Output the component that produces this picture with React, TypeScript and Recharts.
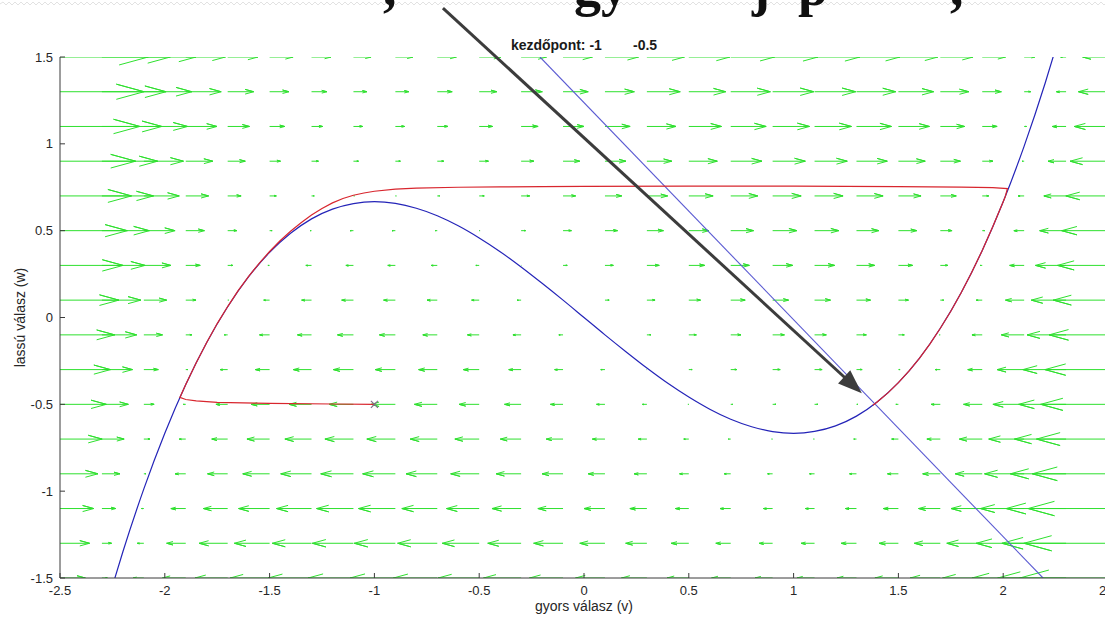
import React from 'react';
import { ComposedChart, Line, Scatter, XAxis, YAxis, ReferenceLine, Customized } from 'recharts';

// ---- axes ----
const xTicks = [-2.5, -2, -1.5, -1, -0.5, 0, 0.5, 1, 1.5, 2, 2.5];
const yTicks = [-1.5, -1, -0.5, 0, 0.5, 1, 1.5];

// ---- quiver grid (v columns, w rows) and horizontal field component read per row ----
const gridV = [-2.5, -2.3, -2.1, -1.9, -1.7, -1.5, -1.3, -1.1, -0.9, -0.7, -0.5, -0.3, -0.1, 0.1, 0.3, 0.5, 0.7, 0.9, 1.1, 1.3, 1.5, 1.7, 1.9, 2.1, 2.3, 2.5];
const gridW = [1.5, 1.3, 1.1, 0.9, 0.7, 0.5, 0.3, 0.1, -0.1, -0.3, -0.5, -0.7, -0.9, -1.1, -1.3, -1.5];
const fieldU = [
  [4.21, 3.26, 2.49, 1.89, 1.44, 1.12, 0.93, 0.84, 0.84, 0.91, 1.04, 1.21, 1.40, 1.60, 1.79, 1.96, 2.09, 2.16, 2.16, 2.07, 1.88, 1.56, 1.11, 0.51, -0.26, -1.21],
  [4.01, 3.06, 2.29, 1.69, 1.24, 0.92, 0.73, 0.64, 0.64, 0.71, 0.84, 1.01, 1.20, 1.40, 1.59, 1.76, 1.89, 1.96, 1.96, 1.87, 1.68, 1.36, 0.91, 0.31, -0.46, -1.41],
  [3.81, 2.86, 2.09, 1.49, 1.04, 0.72, 0.53, 0.44, 0.44, 0.51, 0.64, 0.81, 1.00, 1.20, 1.39, 1.56, 1.69, 1.76, 1.76, 1.67, 1.48, 1.16, 0.71, 0.11, -0.66, -1.61],
  [3.61, 2.66, 1.89, 1.29, 0.84, 0.52, 0.33, 0.24, 0.24, 0.31, 0.44, 0.61, 0.80, 1.00, 1.19, 1.36, 1.49, 1.56, 1.56, 1.47, 1.28, 0.96, 0.51, -0.09, -0.86, -1.81],
  [3.41, 2.46, 1.69, 1.09, 0.64, 0.32, 0.13, 0.04, 0.04, 0.11, 0.24, 0.41, 0.60, 0.80, 0.99, 1.16, 1.29, 1.36, 1.36, 1.27, 1.08, 0.76, 0.31, -0.29, -1.06, -2.01],
  [3.21, 2.26, 1.49, 0.89, 0.44, 0.12, -0.07, -0.16, -0.16, -0.09, 0.04, 0.21, 0.40, 0.60, 0.79, 0.96, 1.09, 1.16, 1.16, 1.07, 0.88, 0.56, 0.11, -0.49, -1.26, -2.21],
  [3.01, 2.06, 1.29, 0.69, 0.24, -0.08, -0.27, -0.36, -0.36, -0.29, -0.16, 0.01, 0.20, 0.40, 0.59, 0.76, 0.89, 0.96, 0.96, 0.87, 0.68, 0.36, -0.09, -0.69, -1.46, -2.41],
  [2.81, 1.86, 1.09, 0.49, 0.04, -0.28, -0.47, -0.56, -0.56, -0.49, -0.36, -0.19, 0.00, 0.20, 0.39, 0.56, 0.69, 0.76, 0.76, 0.67, 0.48, 0.16, -0.29, -0.89, -1.66, -2.61],
  [2.61, 1.66, 0.89, 0.29, -0.16, -0.48, -0.67, -0.76, -0.76, -0.69, -0.56, -0.39, -0.20, 0.00, 0.19, 0.36, 0.49, 0.56, 0.56, 0.47, 0.28, -0.04, -0.49, -1.09, -1.86, -2.81],
  [2.41, 1.46, 0.69, 0.09, -0.36, -0.68, -0.87, -0.96, -0.96, -0.89, -0.76, -0.59, -0.40, -0.20, -0.01, 0.16, 0.29, 0.36, 0.36, 0.27, 0.08, -0.24, -0.69, -1.29, -2.06, -3.01],
  [2.21, 1.26, 0.49, -0.11, -0.56, -0.88, -1.07, -1.16, -1.16, -1.09, -0.96, -0.79, -0.60, -0.40, -0.21, -0.04, 0.09, 0.16, 0.16, 0.07, -0.12, -0.44, -0.89, -1.49, -2.26, -3.21],
  [2.01, 1.06, 0.29, -0.31, -0.76, -1.08, -1.27, -1.36, -1.36, -1.29, -1.16, -0.99, -0.80, -0.60, -0.41, -0.24, -0.11, -0.04, -0.04, -0.13, -0.32, -0.64, -1.09, -1.69, -2.46, -3.41],
  [1.81, 0.86, 0.09, -0.51, -0.96, -1.28, -1.47, -1.56, -1.56, -1.49, -1.36, -1.19, -1.00, -0.80, -0.61, -0.44, -0.31, -0.24, -0.24, -0.33, -0.52, -0.84, -1.29, -1.89, -2.66, -3.61],
  [1.61, 0.66, -0.11, -0.71, -1.16, -1.48, -1.67, -1.76, -1.76, -1.69, -1.56, -1.39, -1.20, -1.00, -0.81, -0.64, -0.51, -0.44, -0.44, -0.53, -0.72, -1.04, -1.49, -2.09, -2.86, -3.81],
  [1.41, 0.46, -0.31, -0.91, -1.36, -1.68, -1.87, -1.96, -1.96, -1.89, -1.76, -1.59, -1.40, -1.20, -1.01, -0.84, -0.71, -0.64, -0.64, -0.73, -0.92, -1.24, -1.69, -2.29, -3.06, -4.01],
  [1.21, 0.26, -0.51, -1.11, -1.56, -1.88, -2.07, -2.16, -2.16, -2.09, -1.96, -1.79, -1.60, -1.40, -1.21, -1.04, -0.91, -0.84, -0.84, -0.93, -1.12, -1.44, -1.89, -2.49, -3.26, -4.21],
];

// ---- cubic nullcline (blue) ----
const cubicV = [-2.25, -2.2, -2.1, -2.0, -1.9, -1.8, -1.7, -1.6, -1.5, -1.4, -1.3, -1.2, -1.1, -1.0, -0.9, -0.8, -0.7, -0.6, -0.5, -0.4, -0.3, -0.2, -0.1, 0.0, 0.1, 0.2, 0.3, 0.4, 0.5, 0.6, 0.7, 0.8, 0.9, 1.0, 1.1, 1.2, 1.3, 1.4, 1.5, 1.6, 1.7, 1.8, 1.9, 2.0, 2.1, 2.2, 2.25];
const cubicW = [-1.547, -1.349, -0.987, -0.667, -0.386, -0.144, 0.062, 0.235, 0.375, 0.485, 0.568, 0.624, 0.656, 0.667, 0.657, 0.629, 0.586, 0.528, 0.458, 0.379, 0.291, 0.197, 0.100, 0.0, -0.100, -0.197, -0.291, -0.379, -0.458, -0.528, -0.586, -0.629, -0.657, -0.667, -0.656, -0.624, -0.568, -0.485, -0.375, -0.235, -0.062, 0.144, 0.386, 0.667, 0.987, 1.349, 1.547];

// ---- straight nullcline (blue) ----
const lineV = [-0.21, 2.19];
const lineW = [1.5, -1.5];

// ---- trajectory (red) ----
const trajV = [-1.0, -1.2, -1.5, -1.75, -1.85, -1.9, -1.928, -1.90, -1.85, -1.80, -1.75, -1.70, -1.65, -1.60, -1.55, -1.50, -1.45, -1.40, -1.35, -1.30, -1.25, -1.20, -1.15, -1.10, -1.05, -1.00, -0.90, -0.80, -0.60, -0.40, -0.20, 0.0, 0.5, 1.0, 1.5, 1.8, 1.95, 2.02, 2.01, 2.00, 1.95, 1.90, 1.85, 1.80, 1.75, 1.70, 1.65, 1.60, 1.55, 1.50, 1.45, 1.40, 1.378];
const trajW = [-0.500, -0.498, -0.495, -0.489, -0.480, -0.472, -0.460, -0.386, -0.260, -0.144, -0.035, 0.063, 0.155, 0.237, 0.312, 0.380, 0.442, 0.497, 0.546, 0.590, 0.628, 0.660, 0.685, 0.704, 0.717, 0.727, 0.739, 0.745, 0.750, 0.752, 0.754, 0.755, 0.756, 0.756, 0.754, 0.751, 0.748, 0.742, 0.697, 0.667, 0.522, 0.386, 0.261, 0.144, 0.036, -0.062, -0.153, -0.235, -0.309, -0.375, -0.434, -0.485, -0.505];

// ---- start point marker ----
const startV = [-1];
const startW = [-0.5];

// ---- annotation arrow (from, to) ----
const annotV = [-0.673, 1.3255];
const annotW = [1.782, -0.436];

// ---- texts ----
const titleText = 'kezdőpont: -1        -0.5';
const xLabel = 'gyors válasz (v)';
const yLabel = 'lassú válasz (w)';
const slideFragments = [',', 'gy', 'j', 'p', ','];
const slideFragmentX = [383, 574, 752, 798, 950];

// ---- styles ----
const QUIVER_SCALE = 0.1;
const HEAD_ALPHA = 0.33;
const HEAD_BETA = 0.33;
const GREEN = '#2ee02e';
const AXIS = '#3a3a3a';
const FONT = '"Liberation Sans", Arial, sans-serif';

// build tables
const quiverData: { x: number; y: number | null }[] = [];
gridW.forEach((w, r) => {
  gridV.forEach((v, c) => {
    const L = fieldU[r][c] * QUIVER_SCALE;
    if (L === 0) return;
    const tip = v + L;
    const back = tip - HEAD_ALPHA * L;
    const off = HEAD_ALPHA * HEAD_BETA * L;
    quiverData.push({ x: v, y: w });
    quiverData.push({ x: tip, y: w });
    quiverData.push({ x: back, y: w + off });
    quiverData.push({ x: tip, y: w });
    quiverData.push({ x: back, y: w - off });
    quiverData.push({ x: tip, y: null });
  });
});
const cubicData = cubicV.map((x, i) => ({ x, y: cubicW[i] }));
const lineData = lineV.map((x, i) => ({ x, y: lineW[i] }));
const trajData = trajV.map((x, i) => ({ x, y: trajW[i] }));
const startData = startV.map((x, i) => ({ x, y: startW[i] }));

const XMark = (props: any) => {
  const { cx, cy } = props;
  const s = 3.5;
  return (
    <g stroke="#806a8c" strokeWidth={1.2}>
      <line x1={cx - s} y1={cy - s} x2={cx + s} y2={cy + s} />
      <line x1={cx - s} y1={cy + s} x2={cx + s} y2={cy - s} />
    </g>
  );
};

const ArrowShape = (props: any) => {
  const x1 = Number(props.x1), y1 = Number(props.y1), x2 = Number(props.x2), y2 = Number(props.y2);
  const dx = x2 - x1, dy = y2 - y1;
  const len = Math.hypot(dx, dy) || 1;
  const ux = dx / len, uy = dy / len;
  const hl = 24, hw = 9;
  const bx = x2 - ux * hl, by = y2 - uy * hl;
  return (
    <g>
      <line x1={x1} y1={y1} x2={bx + ux * 3} y2={by + uy * 3} stroke="#3c3c3c" strokeWidth={3} />
      <polygon points={`${x2},${y2} ${bx - uy * hw},${by + ux * hw} ${bx + uy * hw},${by - ux * hw}`} fill="#3c3c3c" />
    </g>
  );
};

const Overlay = () => {
  let zig = 'M0,4';
  for (let x = 0; x < 1110; x += 6) zig += ` L${x + 3},2 L${x + 6},5`;
  return (
    <g>
      <path d={zig} fill="none" stroke="#e2e2e2" strokeWidth={1} />
      {slideFragments.map((t, i) => (
        <text key={i} x={slideFragmentX[i]} y={5} fontFamily='"Liberation Serif", "DejaVu Serif", serif' fontWeight="bold" fontSize={54} fill="#111">
          {t}
        </text>
      ))}
      <text x={584} y={50} textAnchor="middle" fontFamily={FONT} fontWeight="bold" fontSize={14} fill="#1a1a1a" style={{ whiteSpace: 'pre' }}>
        {titleText}
      </text>
    </g>
  );
};

export default function App() {
  const tickStyle = { fontSize: 13, fill: '#262626', fontFamily: FONT };
  return (
    <div style={{ position: 'absolute', left: 0, top: 0, width: 1105, height: 622, overflow: 'hidden', background: '#fff', fontFamily: FONT }}>
      <ComposedChart width={1130} height={622} margin={{ top: 57, right: 22, bottom: 0, left: 0 }}>
        <XAxis
          xAxisId="b"
          dataKey="x"
          type="number"
          orientation="bottom"
          domain={[-2.5, 2.5]}
          ticks={xTicks}
          allowDataOverflow
          height={44}
          tickSize={-5}
          tickMargin={13}
          tick={tickStyle}
          stroke={AXIS}
          interval={0}
          label={{ value: xLabel, position: 'insideBottom', offset: 11, fontSize: 14, fill: '#262626' }}
        />
        <XAxis
          xAxisId="t"
          dataKey="x"
          type="number"
          orientation="top"
          domain={[-2.5, 2.5]}
          ticks={xTicks}
          allowDataOverflow
          height={0}
          tickSize={-5}
          tick={false}
          stroke={AXIS}
          interval={0}
        />
        <YAxis
          yAxisId="l"
          dataKey="y"
          type="number"
          orientation="left"
          domain={[-1.5, 1.5]}
          ticks={yTicks}
          allowDataOverflow
          width={60}
          tickSize={-5}
          tickMargin={12}
          tick={tickStyle}
          stroke={AXIS}
          interval={0}
          label={{ value: yLabel, angle: -90, position: 'insideLeft', offset: 20, fontSize: 14, fill: '#262626', style: { textAnchor: 'middle' } }}
        />
        <YAxis
          yAxisId="r"
          dataKey="y"
          type="number"
          orientation="right"
          domain={[-1.5, 1.5]}
          ticks={yTicks}
          allowDataOverflow
          width={0}
          tickSize={-5}
          tick={false}
          stroke={AXIS}
          interval={0}
        />
        <Line xAxisId="b" yAxisId="l" data={quiverData} dataKey="y" type="linear" stroke={GREEN} strokeWidth={1} dot={false} activeDot={false} connectNulls={false} isAnimationActive={false} />
        <Line xAxisId="b" yAxisId="l" data={cubicData} dataKey="y" type="monotone" stroke="#2424b8" strokeWidth={1.2} dot={false} activeDot={false} isAnimationActive={false} />
        <Line xAxisId="b" yAxisId="l" data={lineData} dataKey="y" type="linear" stroke="#5a5ad2" strokeWidth={1.1} dot={false} activeDot={false} isAnimationActive={false} />
        <Line xAxisId="b" yAxisId="l" data={trajData} dataKey="y" type="linear" stroke="#d8262e" strokeWidth={1.2} dot={false} activeDot={false} isAnimationActive={false} />
        <Scatter xAxisId="b" yAxisId="l" data={startData} dataKey="y" shape={<XMark />} isAnimationActive={false} />
        <ReferenceLine
          xAxisId="b"
          yAxisId="l"
          segment={[{ x: annotV[0], y: annotW[0] }, { x: annotV[1], y: annotW[1] }]}
          ifOverflow="visible"
          shape={(p: any) => <ArrowShape {...p} />}
        />
        <Customized component={<Overlay />} />
      </ComposedChart>
    </div>
  );
}
